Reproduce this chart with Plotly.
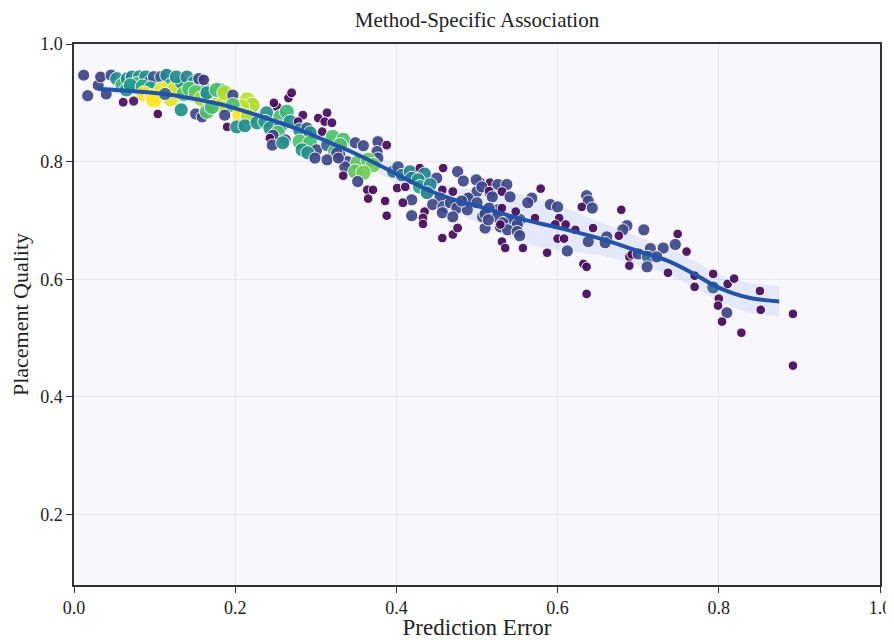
import plotly.graph_objects as go
import numpy as np

# scatter data: prediction error, placement quality, colour value
pred_error = [
    0.012, 0.017, 0.030, 0.033, 0.046, 0.040, 0.053, 0.060, 0.066, 0.065, 0.072, 0.081, 0.078, 0.089, 0.093,
    0.099, 0.108, 0.115, 0.070, 0.085, 0.095, 0.120, 0.130, 0.145, 0.160,
    0.087, 0.097, 0.109, 0.099, 0.120, 0.124, 0.113, 0.061, 0.074, 0.104, 0.133, 0.127, 0.140, 0.149, 0.155,
    0.161, 0.136, 0.143, 0.151, 0.158, 0.165, 0.170, 0.176, 0.184, 0.133, 0.151, 0.159, 0.182,
    0.165, 0.177, 0.187, 0.197, 0.215, 0.221, 0.208, 0.197, 0.206, 0.216, 0.165, 0.171, 0.187, 0.190, 0.202,
    0.212, 0.227, 0.239, 0.237, 0.252, 0.248, 0.266, 0.270, 0.256, 0.264, 0.243, 0.256, 0.253, 0.268, 0.284,
    0.278, 0.262, 0.247, 0.243, 0.246, 0.259, 0.280, 0.289, 0.293, 0.303, 0.314, 0.311, 0.320, 0.308, 0.280,
    0.293, 0.283, 0.301, 0.314, 0.321, 0.334, 0.330, 0.324, 0.290, 0.299, 0.314, 0.330, 0.339, 0.336,
    0.349, 0.359, 0.377, 0.388, 0.376, 0.377, 0.326, 0.328, 0.352, 0.365, 0.371, 0.349, 0.359, 0.352, 0.334,
    0.364, 0.371, 0.365, 0.386, 0.388, 0.396, 0.402, 0.407, 0.417, 0.419, 0.401, 0.411, 0.429, 0.435, 0.450,
    0.427, 0.429, 0.442, 0.438, 0.419, 0.408, 0.458, 0.476, 0.483, 0.457, 0.470, 0.454, 0.445, 0.458, 0.467,
    0.475, 0.491, 0.435, 0.433, 0.419, 0.457, 0.470, 0.433, 0.457, 0.470, 0.476,
    0.504, 0.516, 0.526, 0.537, 0.531, 0.541, 0.500, 0.516, 0.553, 0.510, 0.529, 0.541, 0.550, 0.507, 0.525,
    0.488, 0.499, 0.506, 0.579, 0.515, 0.519, 0.489, 0.481, 0.500, 0.568, 0.563, 0.591, 0.600, 0.636, 0.638,
    0.630, 0.643, 0.531, 0.515, 0.548, 0.510, 0.525, 0.514, 0.532, 0.538, 0.529, 0.550, 0.553, 0.572, 0.602,
    0.610, 0.597, 0.622, 0.644, 0.661, 0.638, 0.600, 0.608, 0.531, 0.535, 0.557, 0.612, 0.587, 0.632, 0.636,
    0.636, 0.689, 0.689,
    0.679, 0.686, 0.681, 0.676, 0.659, 0.707, 0.749, 0.746, 0.731, 0.715, 0.760, 0.692, 0.700, 0.712, 0.723,
    0.711, 0.737, 0.770, 0.793, 0.770, 0.793, 0.811, 0.819, 0.800, 0.799, 0.810, 0.804, 0.828, 0.851, 0.852,
    0.892, 0.892,
]
placement_quality = [
    0.947, 0.912, 0.930, 0.944, 0.947, 0.915, 0.941, 0.930, 0.941, 0.922, 0.944, 0.944, 0.932, 0.944, 0.935,
    0.944, 0.944, 0.947, 0.930, 0.928, 0.925, 0.930, 0.925, 0.930, 0.925,
    0.915, 0.910, 0.922, 0.905, 0.907, 0.922, 0.915, 0.901, 0.903, 0.881, 0.935, 0.944, 0.944, 0.935, 0.941,
    0.939, 0.915, 0.924, 0.918, 0.907, 0.915, 0.901, 0.896, 0.896, 0.888, 0.881, 0.876, 0.922,
    0.917, 0.922, 0.917, 0.913, 0.905, 0.896, 0.893, 0.896, 0.879, 0.876, 0.885, 0.893, 0.879, 0.859, 0.859,
    0.861, 0.866, 0.883, 0.868, 0.893, 0.900, 0.908, 0.917, 0.876, 0.885, 0.857, 0.859, 0.849, 0.868, 0.879,
    0.868, 0.837, 0.845, 0.840, 0.828, 0.832, 0.854, 0.857, 0.849, 0.874, 0.883, 0.868, 0.866, 0.851, 0.834,
    0.832, 0.820, 0.820, 0.828, 0.842, 0.837, 0.828, 0.817, 0.815, 0.806, 0.803, 0.811, 0.800, 0.791,
    0.832, 0.827, 0.834, 0.828, 0.817, 0.806, 0.815, 0.806, 0.798, 0.803, 0.794, 0.783, 0.781, 0.766, 0.776,
    0.752, 0.752, 0.737, 0.733, 0.708, 0.783, 0.791, 0.777, 0.783, 0.772, 0.755, 0.757, 0.789, 0.779, 0.772,
    0.769, 0.757, 0.761, 0.747, 0.735, 0.730, 0.789, 0.783, 0.767, 0.752, 0.749, 0.738, 0.727, 0.723, 0.730,
    0.721, 0.738, 0.715, 0.704, 0.708, 0.713, 0.706, 0.694, 0.670, 0.676, 0.687,
    0.766, 0.764, 0.761, 0.761, 0.749, 0.740, 0.749, 0.747, 0.701, 0.687, 0.689, 0.701, 0.693, 0.706, 0.718,
    0.718, 0.769, 0.757, 0.754, 0.750, 0.740, 0.738, 0.733, 0.730, 0.738, 0.730, 0.727, 0.723, 0.742, 0.733,
    0.723, 0.721, 0.721, 0.721, 0.715, 0.711, 0.706, 0.701, 0.696, 0.684, 0.693, 0.681, 0.674, 0.704, 0.704,
    0.693, 0.693, 0.684, 0.687, 0.672, 0.664, 0.669, 0.669, 0.664, 0.653, 0.653, 0.648, 0.645, 0.626, 0.575,
    0.621, 0.638, 0.623,
    0.718, 0.691, 0.684, 0.674, 0.662, 0.684, 0.677, 0.659, 0.653, 0.652, 0.647, 0.642, 0.643, 0.638, 0.638,
    0.621, 0.611, 0.606, 0.609, 0.587, 0.586, 0.592, 0.601, 0.567, 0.555, 0.543, 0.528, 0.509, 0.580, 0.548,
    0.541, 0.453,
]
colour_value = [
    0.20, 0.22, 0.20, 0.18, 0.22, 0.20, 0.50, 0.68, 0.48, 0.52, 0.45, 0.50, 0.70, 0.50, 0.30,
    0.28, 0.30, 0.45, 0.55, 0.60, 0.55, 0.62, 0.55, 0.60, 0.65,
    0.98, 1.00, 0.97, 1.00, 0.96, 0.95, 0.33, 0.03, 0.05, 0.02, 0.50, 0.48, 0.45, 0.50, 0.25,
    0.15, 0.72, 0.70, 0.75, 0.85, 0.50, 0.90, 0.88, 0.90, 0.50, 0.22, 0.20, 0.50,
    0.50, 0.70, 0.88, 0.22, 0.90, 0.88, 0.90, 0.72, 1.00, 0.88, 0.72, 0.70, 0.22, 0.02, 0.50,
    0.48, 0.50, 0.50, 0.55, 0.03, 0.02, 0.02, 0.03, 0.70, 0.68, 0.50, 0.48, 0.72, 0.50, 0.03,
    0.02, 0.22, 0.20, 0.02, 0.22, 0.50, 0.50, 0.25, 0.48, 0.02, 0.03, 0.02, 0.03, 0.02, 0.72,
    0.70, 0.50, 0.22, 0.33, 0.72, 0.70, 0.72, 0.70, 0.50, 0.22, 0.22, 0.22, 0.20, 0.22,
    0.22, 0.22, 0.20, 0.03, 0.22, 0.22, 0.22, 0.20, 0.75, 0.75, 0.78, 0.75, 0.78, 0.22, 0.02,
    0.03, 0.02, 0.02, 0.02, 0.02, 0.38, 0.25, 0.42, 0.45, 0.42, 0.03, 0.02, 0.02, 0.45, 0.22,
    0.50, 0.60, 0.45, 0.45, 0.22, 0.03, 0.02, 0.22, 0.22, 0.02, 0.03, 0.22, 0.22, 0.25, 0.22,
    0.22, 0.22, 0.02, 0.03, 0.22, 0.22, 0.22, 0.02, 0.02, 0.02, 0.03,
    0.02, 0.03, 0.22, 0.22, 0.03, 0.22, 0.22, 0.22, 0.33, 0.22, 0.22, 0.22, 0.22, 0.22, 0.22,
    0.22, 0.22, 0.22, 0.02, 0.02, 0.22, 0.22, 0.22, 0.22, 0.22, 0.22, 0.22, 0.22, 0.22, 0.22,
    0.02, 0.22, 0.02, 0.22, 0.02, 0.22, 0.22, 0.22, 0.22, 0.22, 0.02, 0.22, 0.22, 0.02, 0.02,
    0.02, 0.03, 0.02, 0.02, 0.22, 0.22, 0.02, 0.02, 0.02, 0.02, 0.02, 0.22, 0.02, 0.02, 0.02,
    0.02, 0.02, 0.02,
    0.02, 0.22, 0.22, 0.02, 0.22, 0.22, 0.02, 0.22, 0.22, 0.22, 0.02, 0.02, 0.22, 0.33, 0.22,
    0.22, 0.02, 0.02, 0.02, 0.02, 0.33, 0.02, 0.02, 0.02, 0.02, 0.20, 0.02, 0.02, 0.02, 0.02,
    0.02, 0.02,
]

# smoothed trend with confidence band
trend_x = [0.030, 0.069, 0.113, 0.156, 0.186, 0.218, 0.249, 0.280, 0.318, 0.342, 0.380, 0.417, 0.442,
           0.479, 0.504, 0.553, 0.603, 0.653, 0.702, 0.739, 0.777, 0.793, 0.818, 0.839, 0.875]
trend_y = [0.924, 0.920, 0.915, 0.905, 0.896, 0.883, 0.869, 0.854, 0.832, 0.818, 0.793, 0.767, 0.750,
           0.732, 0.723, 0.703, 0.687, 0.669, 0.647, 0.630, 0.603, 0.590, 0.576, 0.568, 0.562]
trend_hw = [0.006, 0.006, 0.007, 0.008, 0.008, 0.009, 0.009, 0.010, 0.011, 0.012, 0.014, 0.016, 0.018,
            0.022, 0.030, 0.042, 0.038, 0.028, 0.024, 0.022, 0.022, 0.022, 0.024, 0.025, 0.026]

x_ticks = [0.0, 0.2, 0.4, 0.6, 0.8, 1.0]
y_ticks = [0.2, 0.4, 0.6, 0.8, 1.0]

c_arr = np.array(colour_value)
sizes = 8.5 + 8 * np.sqrt(c_arr)

ty = np.array(trend_y)
hw = np.array(trend_hw)
upper = ty + hw
lower = ty - hw

fig = go.Figure()
fig.add_trace(go.Scatter(
    x=trend_x + trend_x[::-1],
    y=list(upper) + list(lower[::-1]),
    fill="toself", fillcolor="rgba(90,125,225,0.13)",
    line=dict(width=0), mode="lines", hoverinfo="skip", showlegend=False,
))
fig.add_trace(go.Scatter(
    x=pred_error, y=placement_quality, mode="markers",
    marker=dict(color=colour_value, colorscale="Viridis", cmin=0, cmax=1,
                size=sizes, opacity=0.92, line=dict(color="white", width=1)),
    showlegend=False,
))
fig.add_trace(go.Scatter(
    x=trend_x, y=trend_y, mode="lines",
    line=dict(color="#2153a8", width=4, shape="spline"),
    showlegend=False,
))

font_family = "Liberation Serif, Times New Roman, serif"
axis_common = dict(
    showline=True, linecolor="#333333", linewidth=1.5, mirror=True,
    ticks="outside", ticklen=6, tickcolor="#333333", tickwidth=1,
    showgrid=True, gridcolor="rgba(200,200,215,0.35)", gridwidth=1,
    zeroline=False, tickformat=".1f", automargin=False,
    tickfont=dict(family=font_family, size=18, color="#222222"),
)

fig.update_layout(
    width=886, height=632,
    margin=dict(l=66, r=14, t=36, b=55),
    paper_bgcolor="white", plot_bgcolor="#f8f8fc",
    title=dict(text="Method-Specific Association", x=0.5, xref="paper", xanchor="center",
               y=0.993, yanchor="top", yref="container", automargin=False,
               font=dict(family=font_family, size=21, color="#222222")),
    font=dict(family=font_family, color="#222222"),
    xaxis=dict(range=[0, 1], tickvals=x_ticks,
               title=dict(text="Prediction Error", font=dict(family=font_family, size=23), standoff=7),
               **axis_common),
    yaxis=dict(range=[0.08, 1.0], tickvals=y_ticks,
               title=dict(text="Placement Quality", font=dict(family=font_family, size=22), standoff=10),
               **axis_common),
)

fig.write_html("out.html")
